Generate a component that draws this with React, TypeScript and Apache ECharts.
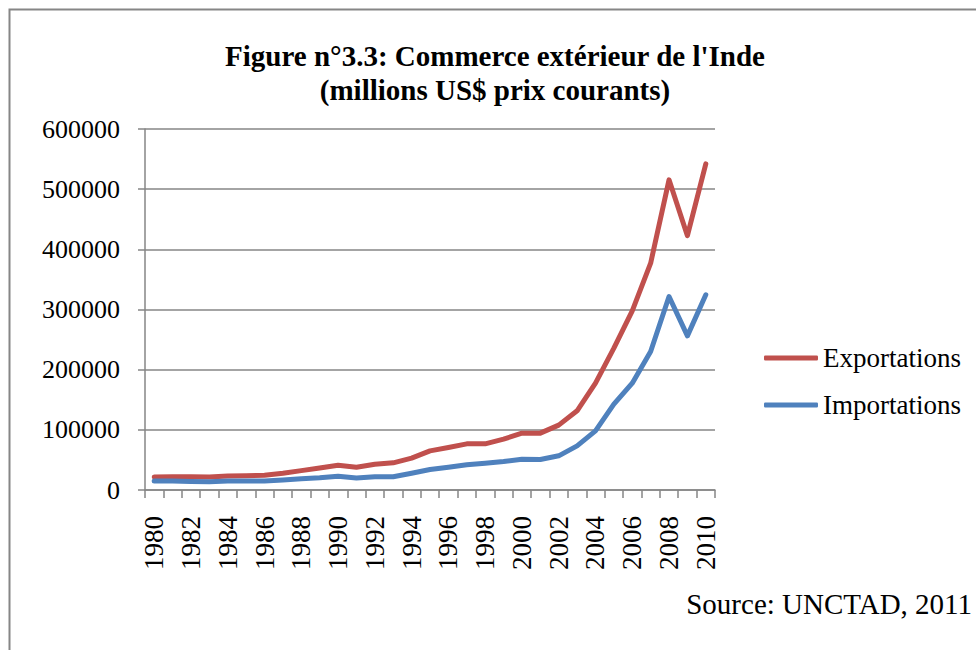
import React, { useEffect, useRef } from "react";
import * as echarts from "echarts";

const years = [
  "1980", "1981", "1982", "1983", "1984", "1985", "1986", "1987", "1988", "1989",
  "1990", "1991", "1992", "1993", "1994", "1995", "1996", "1997", "1998", "1999",
  "2000", "2001", "2002", "2003", "2004", "2005", "2006", "2007", "2008", "2009", "2010",
];

const exportations = [
  21600, 22100, 22100, 21600, 23200, 23800, 24400, 27700, 32200, 36700,
  41200, 37800, 42800, 45100, 52900, 65000, 70600, 76700, 76700, 84500,
  94500, 94500, 107800, 131600, 177600, 235700, 297800, 377000, 515500, 422700, 542000,
];

const importations = [
  14800, 14800, 14300, 13700, 14800, 14800, 14800, 16500, 18800, 20400,
  22700, 19900, 22100, 22100, 27700, 34000, 37900, 41800, 44600, 47400,
  51200, 50700, 56800, 73400, 98300, 142600, 177600, 230200, 321600, 256200, 324400,
];

const yTicks = [0, 100000, 200000, 300000, 400000, 500000, 600000];

const titleText = "Figure n°3.3: Commerce extérieur de l'Inde\n(millions US$ prix courants)";
const sourceText = "Source: UNCTAD, 2011";

const FONT = "'Liberation Serif', 'Times New Roman', serif";
const RED = "#C0504D";
const BLUE = "#4F81BD";
const GRAY = "#868686";

export default function App() {
  const ref = useRef<HTMLDivElement>(null);

  useEffect(() => {
    if (!ref.current) return;
    const chart = echarts.init(ref.current, undefined, { renderer: "svg" });
    chart.setOption({
      animation: false,
      backgroundColor: "#ffffff",
      title: {
        text: titleText,
        left: 490,
        top: 34,
        textAlign: "center",
        textStyle: {
          fontFamily: FONT,
          fontWeight: "bold",
          fontSize: 29,
          lineHeight: 34,
          color: "#000",
        },
      },
      legend: {
        orient: "vertical",
        left: 759,
        top: 338,
        itemWidth: 54,
        itemHeight: 5,
        itemGap: 17,
        itemTextGap: 3,
        icon: "roundRect",
        textStyle: {
          fontFamily: FONT,
          fontSize: 27,
          lineHeight: 30,
          color: "#000",
        },
        data: ["Exportations", "Importations"],
      },
      grid: {
        left: 145,
        right: 261,
        top: 129,
        bottom: 160,
        containLabel: false,
      },
      xAxis: {
        type: "category",
        data: years,
        boundaryGap: true,
        axisLine: { lineStyle: { color: GRAY, width: 1.5 } },
        axisTick: { show: true, interval: 0, length: 8, lineStyle: { color: GRAY, width: 1.5 } },
        axisLabel: {
          interval: 1,
          rotate: 90,
          margin: 26,
          fontFamily: FONT,
          fontSize: 27,
          color: "#000",
        },
      },
      yAxis: {
        type: "value",
        min: yTicks[0],
        max: yTicks[yTicks.length - 1],
        interval: 100000,
        axisLine: { show: true, lineStyle: { color: GRAY, width: 1.5 } },
        axisTick: { show: true, length: 7, lineStyle: { color: GRAY, width: 1.5 } },
        splitLine: { show: true, lineStyle: { color: GRAY, width: 1.5 } },
        axisLabel: {
          margin: 25,
          fontFamily: FONT,
          fontSize: 26,
          color: "#000",
          formatter: (v: number) => String(v),
        },
      },
      series: [
        {
          name: "Exportations",
          type: "line",
          data: exportations,
          symbol: "none",
          lineStyle: { color: RED, width: 5, cap: "round", join: "round" },
          itemStyle: { color: RED },
        },
        {
          name: "Importations",
          type: "line",
          data: importations,
          symbol: "none",
          lineStyle: { color: BLUE, width: 5, cap: "round", join: "round" },
          itemStyle: { color: BLUE },
        },
      ],
      graphic: [
        {
          type: "rect",
          shape: { x: 9.5, y: 9.5, width: 1000, height: 700 },
          style: { fill: "none", stroke: GRAY, lineWidth: 2 },
          silent: true,
        },
        {
          type: "text",
          right: 4,
          top: 589,
          style: {
            text: sourceText,
            fontFamily: FONT,
            fontSize: 29,
            fill: "#000",
          },
        },
      ],
    });
    return () => chart.dispose();
  }, []);

  return (
    <div
      ref={ref}
      style={{ position: "fixed", left: 0, top: 0, width: 976, height: 650 }}
    />
  );
}
